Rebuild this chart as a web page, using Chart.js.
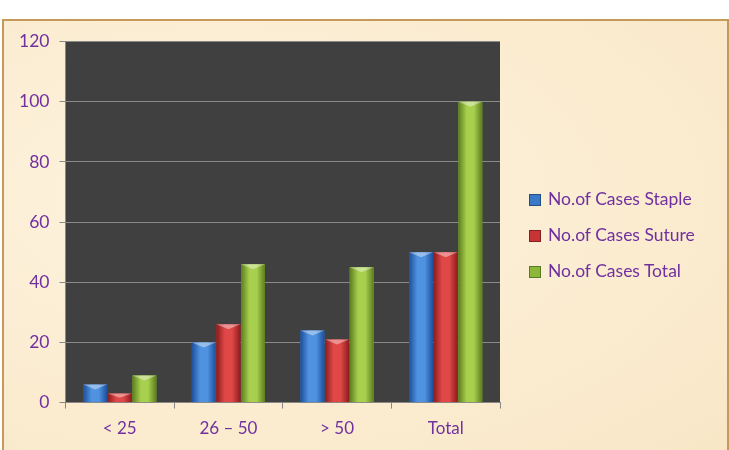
<!DOCTYPE html>
<html>
<head>
<meta charset="utf-8">
<script src="https://cdn.jsdelivr.net/npm/chart.js@4"></script>
<style>
body{margin:0;background:#fff;width:729px;height:450px;overflow:hidden;font-family:Lato,sans-serif}
#box{position:absolute;left:2px;top:19px;width:723px;height:440px;border:2px solid #c4995a;
background:radial-gradient(ellipse at 30% 40%,#fdf3df 0%,#fbecd0 60%,#f8e6c6 100%)}
#wrap{position:absolute;left:0;top:0;width:723px;height:431px}
#legenda{position:absolute;left:525px;top:166px;color:#7030a0;font-size:17.5px}
#legenda div{height:36px;line-height:24px;white-space:nowrap}
#legenda span{display:inline-block;width:10px;height:10px;margin-right:7px;vertical-align:-1px;border:1px solid rgba(0,0,0,0.35)}
</style>
</head>
<body>
<div id="box"><div id="wrap"><canvas id="grafico"></canvas></div><div id="legenda"></div></div>
<script>
let categorias=["< 25","26 \u2013 50","> 50","Total"]
let staple=[6,20,24,50]
let sutura=[3,26,21,50]
let total=[9,46,45,100]
let marcasY=[0,20,40,60,80,100,120]

let cores={
staple:["#1d4f9c","#4f93e0"],
sutura:["#8c1c1c","#e04848"],
total:["#5c7d1e","#a8d04e"]
}

let fundoPlot={
id:"fundoPlot",
beforeDraw(chart){
let a=chart.chartArea
let ctx=chart.ctx
ctx.save()
ctx.fillStyle="#404040"
ctx.fillRect(a.left,a.top,a.right-a.left,a.bottom-a.top)
ctx.restore()
}
}

let bisel={
id:"bisel",
afterDatasetsDraw(chart){
let ctx=chart.ctx
chart.data.datasets.forEach((ds,i)=>{
let meta=chart.getDatasetMeta(i)
let c=ds.tons
meta.data.forEach(bar=>{
let p=bar.getProps(["x","y","base","width"],true)
let l=p.x-p.width/2, r=p.x+p.width/2
let g=ctx.createLinearGradient(l,0,r,0)
g.addColorStop(0,c[0])
g.addColorStop(0.35,c[1])
g.addColorStop(0.65,c[1])
g.addColorStop(1,c[0])
ctx.save()
ctx.fillStyle=g
ctx.fillRect(l,p.y,p.width,p.base-p.y)
let h=Math.min(5,(p.base-p.y)/2)
ctx.fillStyle="rgba(255,255,255,0.4)"
ctx.beginPath()
ctx.moveTo(l,p.y)
ctx.lineTo(r,p.y)
ctx.lineTo(p.x,p.y+h)
ctx.closePath()
ctx.fill()
ctx.restore()
})
})
}
}

let grafico=new Chart(document.getElementById("grafico"),{
type:"bar",
data:{
labels:categorias,
datasets:[
{label:"No.of Cases Staple",data:staple,backgroundColor:"#3a78c8",tons:cores.staple},
{label:"No.of Cases Suture",data:sutura,backgroundColor:"#c83434",tons:cores.sutura},
{label:"No.of Cases Total",data:total,backgroundColor:"#8cb83a",tons:cores.total}
]
},
options:{
responsive:true,
maintainAspectRatio:false,
animation:false,
layout:{padding:{top:16,left:5,right:227,bottom:3}},
datasets:{bar:{categoryPercentage:0.68,barPercentage:0.97}},
plugins:{
tooltip:{enabled:false},
legend:{display:false}
},
scales:{
x:{
grid:{drawOnChartArea:false,color:"#888",tickLength:6},
border:{color:"#888"},
ticks:{color:"#7030a0",font:{family:"Lato",size:17},padding:10}
},
y:{
min:0,
max:120,
afterBuildTicks(axis){axis.ticks=marcasY.map(v=>({value:v}))},
grid:{color:"#8a8a8a",tickLength:6},
border:{color:"#888"},
ticks:{color:"#7030a0",font:{family:"Lato",size:17.5},padding:10}
}
}
},
plugins:[fundoPlot,bisel]
})

let legenda=document.getElementById("legenda")
grafico.data.datasets.forEach(ds=>{
let item=document.createElement("div")
item.innerHTML='<span style="background:'+ds.backgroundColor+'"></span>'+ds.label
legenda.appendChild(item)
})
</script>
</body>
</html>
